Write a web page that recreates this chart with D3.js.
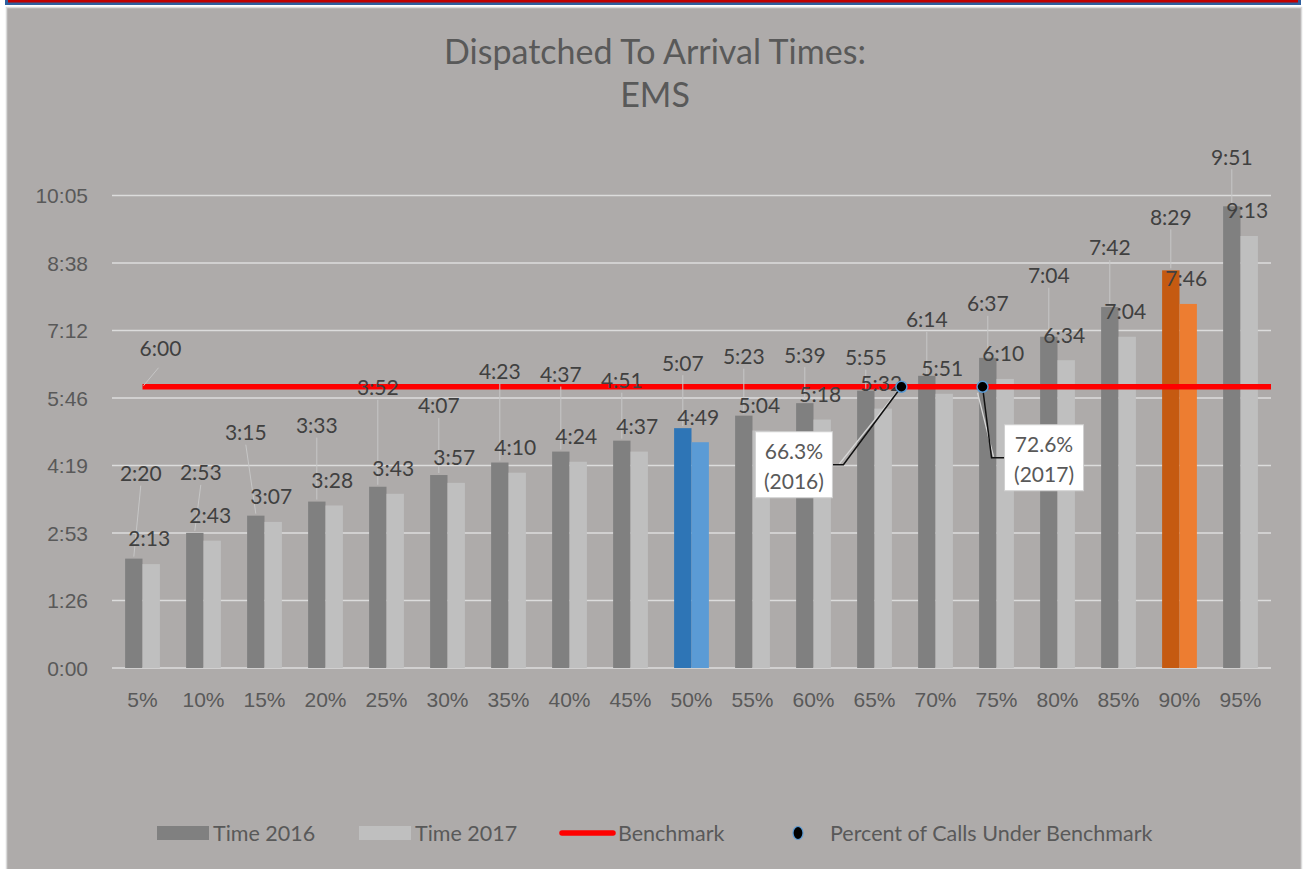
<!doctype html>
<html lang="en">
<head>
<meta charset="UTF-8">
<title>Dispatched To Arrival Times: EMS</title>
<script src="https://cdn.jsdelivr.net/npm/d3@7"></script>
<style>
    body { margin: 0; background: #ffffff; }
    svg { display: block; font-family: Lato, "Open Sans", sans-serif; }
    .tick-label { fill: #595959; font-size: 21px; }
    .data-label { fill: #404040; font-size: 21px; }
    .legend-label { fill: #595959; font-size: 21.5px; }
</style>
</head>
<body>
<svg id="chart" width="1304" height="869"></svg>
<script>
// chart data
const categories = ["5%", "10%", "15%", "20%", "25%", "30%", "35%", "40%", "45%", "50%",
                    "55%", "60%", "65%", "70%", "75%", "80%", "85%", "90%", "95%"];
const time2016 = ["2:20", "2:53", "3:15", "3:33", "3:52", "4:07", "4:23", "4:37", "4:51", "5:07",
                  "5:23", "5:39", "5:55", "6:14", "6:37", "7:04", "7:42", "8:29", "9:51"];
const time2017 = ["2:13", "2:43", "3:07", "3:28", "3:43", "3:57", "4:10", "4:24", "4:37", "4:49",
                  "5:04", "5:18", "5:32", "5:51", "6:10", "6:34", "7:04", "7:46", "9:13"];
const benchmark = "6:00";
const pctUnder = [66.3, 72.6];
const pctYears = ["2016", "2017"];
const yTicks = [0, 1, 2, 3, 4, 5, 6, 7].map(i => i * 86.4); // 0.001 day steps

// label placement (Excel had these dragged by hand)
const lift2016 = [85, 60, 83, 76, 99, 69, 91, 77, 60, 65, 59, 48, 33, 56, 54, 61, 59, 53, 49];
const nudge2016 = [7, 6, -10, 0, 0, 0, 0, 0, 0, 0, 0, 0, 0, 0, 0, 0, 0, 0, 0];

const colors = {
    "2016": "#808080", "2017": "#bfbfbf",
    hi: { "50%": ["#2e75b6", "#5b9bd5"], "90%": ["#c55a11", "#ed7d31"] }
};

const toSec = s => { const p = s.split(":"); return +p[0] * 60 + +p[1]; };
const fmt = v => { const s = Math.round(v); return Math.floor(s / 60) + ":" + String(s % 60).padStart(2, "0"); };

const svg = d3.select("#chart");

// frame: top stripes and grey panel
svg.append("rect").attr("x", 5).attr("y", 0).attr("width", 1296).attr("height", 5).attr("fill", "#2e5f9e");
svg.append("rect").attr("x", 8).attr("y", 0).attr("width", 1290).attr("height", 2.5).attr("fill", "#c00000");
svg.append("rect").attr("x", 6.5).attr("y", 7.5).attr("width", 1295).attr("height", 880)
    .attr("fill", "#aeabaa").attr("stroke", "#dadada").attr("stroke-width", 1.5);

// title
const title = svg.append("text").attr("text-anchor", "middle").attr("fill", "#595959")
    .style("font-size", "34px");
title.append("tspan").attr("x", 655).attr("y", 64).text("Dispatched To Arrival Times:");
title.append("tspan").attr("x", 655).attr("y", 107).text("EMS");

const plotL = 112, plotR = 1271, plotT = 195.5, plotB = 668;

const x = d3.scaleBand().domain(categories).range([plotL, plotR])
    .paddingInner(0.43).paddingOuter(0.215);
const xSub = d3.scaleBand().domain(["2016", "2017"]).range([0, x.bandwidth()]);
const xPct = d3.scaleLinear().domain([5, 95]).range([plotL, plotR]);
const y = d3.scaleLinear().domain([0, yTicks[yTicks.length - 1]]).range([plotB, plotT]);

// gridlines
svg.append("g").selectAll("line").data(yTicks).join("line")
    .attr("x1", plotL).attr("x2", plotR)
    .attr("y1", d => y(d)).attr("y2", d => y(d))
    .attr("stroke", "#dcdcdc").attr("stroke-width", 1.5);

// y axis labels
const yAxis = svg.append("g").attr("transform", `translate(${plotL - 24},0)`)
    .call(d3.axisLeft(y).tickValues(yTicks).tickFormat(fmt).tickSize(0).tickPadding(0));
yAxis.select(".domain").remove();
yAxis.selectAll("text").attr("class", "tick-label").attr("dy", "0.35em");

// x axis labels
const xAxis = svg.append("g").attr("transform", `translate(0,${plotB})`)
    .call(d3.axisBottom(x).tickSize(0).tickPadding(24));
xAxis.select(".domain").remove();
xAxis.selectAll("text").attr("class", "tick-label");

// bars
const rows = categories.map((c, i) => ({
    cat: c, i: i,
    v: { "2016": toSec(time2016[i]), "2017": toSec(time2017[i]) },
    txt: { "2016": time2016[i], "2017": time2017[i] }
}));

const groups = svg.append("g").selectAll("g").data(rows).join("g")
    .attr("transform", d => `translate(${x(d.cat)},0)`);

groups.selectAll("rect").data(d => ["2016", "2017"].map((k, j) => ({ k, j, d }))).join("rect")
    .attr("x", e => xSub(e.k))
    .attr("width", xSub.bandwidth())
    .attr("y", e => y(e.d.v[e.k]))
    .attr("height", e => plotB - y(e.d.v[e.k]))
    .attr("fill", e => colors.hi[e.d.cat] ? colors.hi[e.d.cat][e.j] : colors[e.k]);

// benchmark line
const yb = y(toSec(benchmark));
svg.append("line")
    .attr("x1", x(categories[0]) + x.bandwidth() / 2).attr("x2", plotR)
    .attr("y1", yb).attr("y2", yb)
    .attr("stroke", "#ff0000").attr("stroke-width", 5.5);

// 2016 labels with leader lines
const labels = svg.append("g");
rows.forEach(d => {
    const bx = x(d.cat) + xSub("2016") + xSub.bandwidth() / 2;
    const by = y(d.v["2016"]);
    const lx = bx + nudge2016[d.i], ly = by - lift2016[d.i];
    if (lift2016[d.i] > 24) {
        labels.append("line")
            .attr("x1", lx).attr("y1", ly + 12).attr("x2", bx).attr("y2", by - 2)
            .attr("stroke", "#c6c6c6").attr("stroke-width", 1);
    }
    labels.append("text").attr("class", "data-label").attr("text-anchor", "middle")
        .attr("x", lx).attr("y", ly).attr("dy", "0.35em").text(d.txt["2016"]);

    const cx = x(d.cat) + xSub("2017") + xSub.bandwidth() / 2;
    labels.append("text").attr("class", "data-label").attr("text-anchor", "middle")
        .attr("x", cx - 2).attr("y", y(d.v["2017"]) - 25).attr("dy", "0.35em").text(d.txt["2017"]);
});

// benchmark label
const bx0 = x(categories[0]) + x.bandwidth() / 2;
labels.append("line").attr("x1", bx0 + 1).attr("y1", yb - 1).attr("x2", bx0 + 16).attr("y2", yb - 19)
    .attr("stroke", "#c6c6c6").attr("stroke-width", 1);
labels.append("text").attr("class", "data-label").attr("text-anchor", "middle")
    .attr("x", bx0 + 18).attr("y", yb - 38).attr("dy", "0.35em").text(benchmark);

// percent-under-benchmark callouts
const callouts = [
    { bx: -146, by: 45, w: 77, h: 66, elbow: [-58, 78] },
    { bx: 22, by: 38, w: 79, h: 66, elbow: [9, 71] }
];
pctUnder.forEach((p, i) => {
    const px = xPct(p), c = callouts[i];
    const boxX = px + c.bx, boxY = yb + c.by;
    const ex = px + c.elbow[0], ey = yb + c.elbow[1];
    const edge = c.bx < 0 ? boxX + c.w : boxX;
    svg.append("polyline")
        .attr("points", `${px - 5},${yb + 6} ${ex + (c.bx < 0 ? -4 : 2)},${ey - 1}`)
        .attr("fill", "none").attr("stroke", "#d6d6d6").attr("stroke-width", 1.2);
    svg.append("polyline")
        .attr("points", `${px},${yb} ${ex},${ey} ${edge},${ey}`)
        .attr("fill", "none").attr("stroke", "#111111").attr("stroke-width", 1.5);
    svg.append("rect").attr("x", boxX).attr("y", boxY).attr("width", c.w).attr("height", c.h)
        .attr("fill", "#ffffff").attr("stroke", "#d0d0d0").attr("stroke-width", 1);
    svg.append("text").attr("class", "tick-label").attr("text-anchor", "middle")
        .attr("x", boxX + c.w / 2).attr("y", boxY + 20).attr("dy", "0.35em").text(p.toFixed(1) + "%");
    svg.append("text").attr("class", "tick-label").attr("text-anchor", "middle")
        .attr("x", boxX + c.w / 2).attr("y", boxY + 50).attr("dy", "0.35em").text("(" + pctYears[i] + ")");
    svg.append("circle").attr("cx", px).attr("cy", yb).attr("r", 5.5)
        .attr("fill", "#000000").attr("stroke", "#5b9bd5").attr("stroke-width", 1.5);
});

// legend
const legY = 833;
const legend = svg.append("g");
legend.append("rect").attr("x", 157).attr("y", legY - 7).attr("width", 52).attr("height", 14).attr("fill", colors["2016"]);
legend.append("text").attr("class", "legend-label").attr("x", 213).attr("y", legY).attr("dy", "0.35em").text("Time 2016");
legend.append("rect").attr("x", 359).attr("y", legY - 7).attr("width", 52).attr("height", 14).attr("fill", colors["2017"]);
legend.append("text").attr("class", "legend-label").attr("x", 415).attr("y", legY).attr("dy", "0.35em").text("Time 2017");
legend.append("line").attr("x1", 562).attr("x2", 613).attr("y1", legY).attr("y2", legY)
    .attr("stroke", "#ff0000").attr("stroke-width", 5.5).attr("stroke-linecap", "round");
legend.append("text").attr("class", "legend-label").attr("x", 618).attr("y", legY).attr("dy", "0.35em").text("Benchmark");
legend.append("ellipse").attr("cx", 798).attr("cy", legY).attr("rx", 5).attr("ry", 6.5)
    .attr("fill", "#000000").attr("stroke", "#5b9bd5").attr("stroke-width", 1.2);
legend.append("text").attr("class", "legend-label").attr("x", 830).attr("y", legY).attr("dy", "0.35em").text("Percent of Calls Under Benchmark");
</script>
</body>
</html>
